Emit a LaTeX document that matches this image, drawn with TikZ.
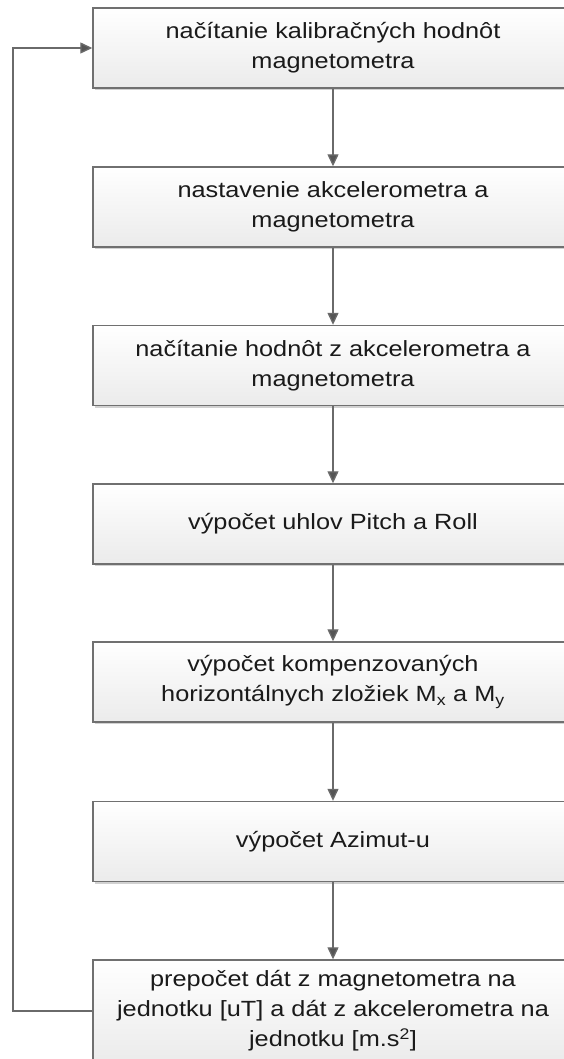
\documentclass[tikz,border=0pt]{standalone}
\usepackage{fontspec}
\setmainfont{Liberation Sans}[FakeStretch=1.15]
\usetikzlibrary{arrows.meta,shadows}
\definecolor{boxborder}{HTML}{707070}
\definecolor{boxbottom}{HTML}{EBEBEB}
\definecolor{linegray}{HTML}{6A6A6A}
\definecolor{headgray}{HTML}{555555}
\definecolor{txt}{HTML}{1A1A1A}
\tikzset{
  stepbox/.style={draw=boxborder, line width=1.4pt, top color=white, bottom color=boxbottom,
    minimum width=480pt, minimum height=80pt, inner sep=0pt, align=center,
    text=txt, font=\fontsize{22}{30}\selectfont,
    drop shadow={opacity=0.18, shadow xshift=2pt, shadow yshift=-2pt, fill=black}},
  flow/.style={draw=linegray, line width=1.3pt,
    -{Triangle[width=11pt,length=12pt,fill=headgray]}}
}
\begin{document}
\begin{tikzpicture}[x=1pt,y=-1pt]
\useasboundingbox (0,0) rectangle (564,1059);
\clip (0,0) rectangle (564,1059);
\fill[white] (0,0) rectangle (564,1059);
\node[stepbox] (b1) at (333,48) {načítanie kalibračných hodnôt\\magnetometra};
\node[stepbox] (b2) at (333,207) {nastavenie akcelerometra a\\magnetometra};
\node[stepbox] (b3) at (333,365.5) {načítanie hodnôt z akcelerometra a\\magnetometra};
\node[stepbox] (b4) at (333,524) {výpočet uhlov Pitch a Roll};
\node[stepbox] (b5) at (333,682) {výpočet kompenzovaných\\horizontálnych zložiek M\textsubscript{x} a M\textsubscript{y}};
\node[stepbox] (b6) at (333,841.5) {výpočet Azimut-u};
\node[stepbox, minimum height=102pt] (b7) at (333,1011) {prepočet dát z magnetometra na\\jednotku [uT] a dát z akcelerometra na\\jednotku [m.s\textsuperscript{2}]};
\draw[flow] (b1) -- (b2);
\draw[flow] (b2) -- (b3);
\draw[flow] (b3) -- (b4);
\draw[flow] (b4) -- (b5);
\draw[flow] (b5) -- (b6);
\draw[flow] (b6) -- (b7);
\coordinate (fb) at (13,1011);
\draw[flow] (b7.west) -- (fb) |- (b1.west);
\end{tikzpicture}
\end{document}
